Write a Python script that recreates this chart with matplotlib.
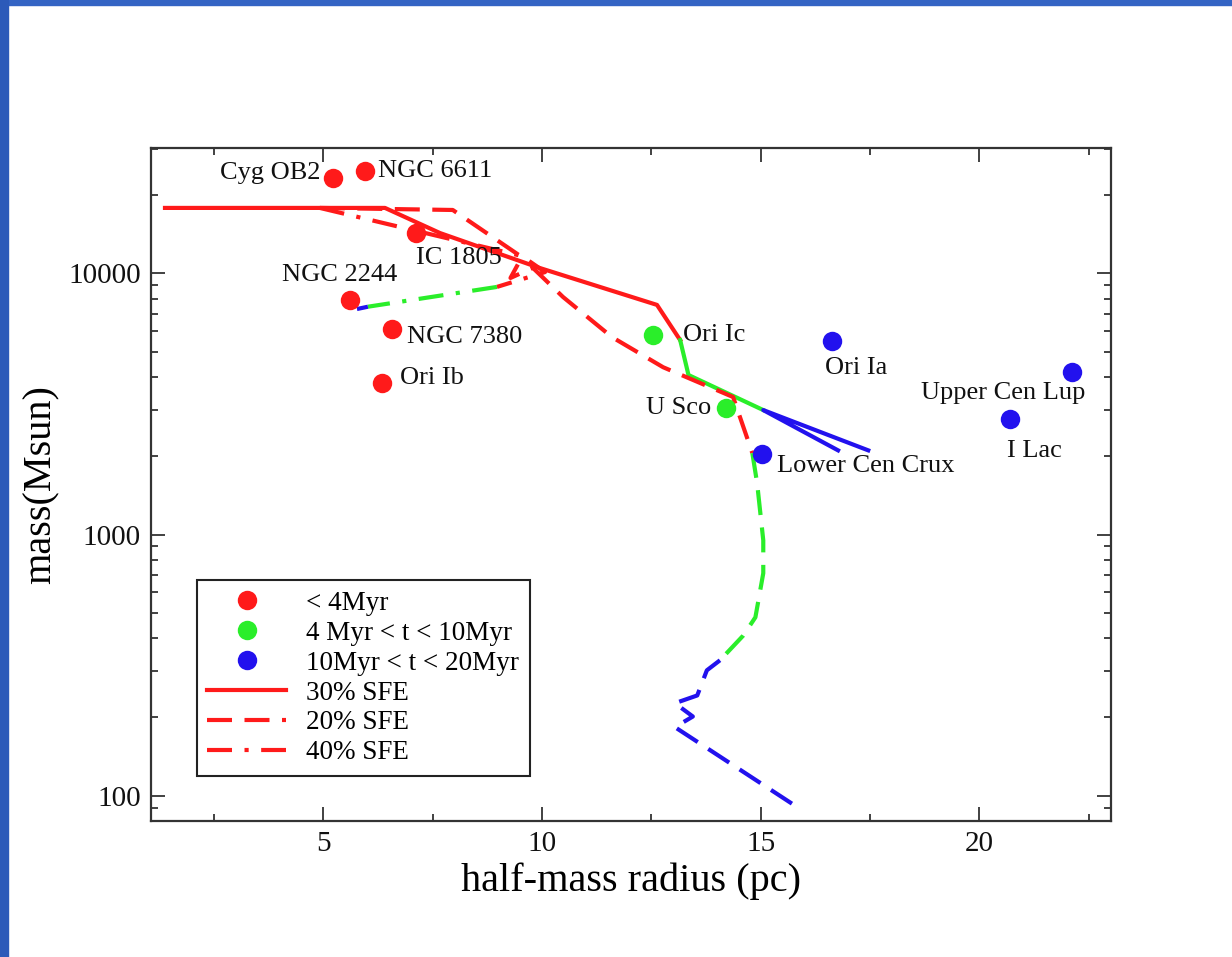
import matplotlib
matplotlib.use('Agg')
import matplotlib.pyplot as plt
from matplotlib.lines import Line2D
from matplotlib.patches import Rectangle
from matplotlib.ticker import FuncFormatter, NullFormatter, MultipleLocator, LogLocator

plt.rcParams['font.family'] = ['Liberation Serif', 'DejaVu Serif']

# observed clusters, grouped by age
young_names = ['Cyg OB2', 'NGC 6611', 'IC 1805', 'NGC 2244', 'NGC 7380', 'Ori Ib']
young_r = [5.22, 5.95, 7.13, 5.62, 6.56, 6.35]
young_m = [23100, 24700, 14300, 7900, 6120, 3790]

mid_names = ['Ori Ic', 'U Sco']
mid_r = [12.53, 14.20]
mid_m = [5800, 3040]

old_names = ['Ori Ia', 'Lower Cen Crux', 'Upper Cen Lup', 'I Lac']
old_r = [16.63, 15.03, 22.12, 20.71]
old_m = [5520, 2030, 4200, 2780]

# model tracks, split by age colour
sfe30_red_r = [1.38, 6.41, 7.67, 9.95, 12.63, 13.16]
sfe30_red_m = [17800, 17800, 14260, 10480, 7570, 5550]
sfe30_green_r = [13.16, 13.35, 15.06]
sfe30_green_m = [5550, 4080, 2995]
sfe30_blue_r = [16.77, 15.06, 17.46]
sfe30_blue_m = [2100, 2995, 2100]

sfe20_red_r = [4.92, 7.96, 9.54, 9.28, 9.79, 10.48, 11.60, 12.77, 14.37, 14.81]
sfe20_red_m = [17800, 17480, 11540, 9600, 10500, 8120, 5700, 4370, 3360, 2050]
sfe20_green_r = [14.81, 14.92, 15.06, 15.06, 14.88, 14.60, 14.07]
sfe20_green_m = [2050, 1570, 950, 711, 482, 410, 330]
sfe20_blue_r = [14.07, 13.77, 13.55, 13.04, 13.45, 13.04, 15.90]
sfe20_blue_m = [330, 302, 242, 226, 201, 183, 89]

sfe40_red_r = [4.92, 9.54, 10.07, 8.97]
sfe40_red_m = [17800, 11650, 10110, 8870]
sfe40_green_r = [8.97, 6.02]
sfe40_green_m = [8870, 7450]
sfe40_blue_r = [6.02, 5.77]
sfe40_blue_m = [7450, 7300]

RED = '#ff1a1a'
GREEN = '#2aee2a'
BLUE = '#2211ee'
SOLID = '-'
DASHED = (0, (6, 3))
DASHDOT = (0, (6, 3, 1, 3))

fig = plt.figure(figsize=(12.32, 9.57), dpi=100)
ax = fig.add_axes([0.1222, 0.1421, 0.7792, 0.7033])

# slide border
fig.add_artist(Rectangle((0, 1 - 5 / 957), 1, 5 / 957, transform=fig.transFigure, color='#3464c4'))
fig.add_artist(Rectangle((0, 0), 8 / 1232, 1, transform=fig.transFigure, color='#2c5ab9'))

tracks = [
    (sfe30_red_r, sfe30_red_m, RED, SOLID), (sfe30_green_r, sfe30_green_m, GREEN, SOLID),
    (sfe30_blue_r, sfe30_blue_m, BLUE, SOLID),
    (sfe20_red_r, sfe20_red_m, RED, DASHED), (sfe20_green_r, sfe20_green_m, GREEN, DASHED),
    (sfe20_blue_r, sfe20_blue_m, BLUE, DASHED),
    (sfe40_red_r, sfe40_red_m, RED, DASHDOT), (sfe40_green_r, sfe40_green_m, GREEN, DASHDOT),
    (sfe40_blue_r, sfe40_blue_m, BLUE, DASHDOT),
]
for r, m, c, ls in tracks:
    ax.plot(r, m, color=c, ls=ls, lw=3, zorder=2)

ax.plot(young_r, young_m, 'o', color=RED, ms=14, mec='none', zorder=3)
ax.plot(mid_r, mid_m, 'o', color=GREEN, ms=14, mec='none', zorder=3)
ax.plot(old_r, old_m, 'o', color=BLUE, ms=14, mec='none', zorder=3)

# label offsets in pixels from each marker
label_offsets = {
    'Cyg OB2': (-12, 5, 'right'), 'NGC 6611': (13, 0, 'left'), 'IC 1805': (0, -25, 'left'),
    'NGC 2244': (-11, 25, 'center'), 'NGC 7380': (15, -8, 'left'), 'Ori Ib': (18, 5, 'left'),
    'Ori Ic': (30, 0, 'left'), 'U Sco': (-14, 0, 'right'), 'Ori Ia': (-7, -27, 'left'),
    'Lower Cen Crux': (15, -12, 'left'), 'Upper Cen Lup': (13, -21, 'right'), 'I Lac': (-3, -32, 'left'),
}
for names, rs, ms in [(young_names, young_r, young_m), (mid_names, mid_r, mid_m), (old_names, old_r, old_m)]:
    for n, r, m in zip(names, rs, ms):
        dx, dy, ha = label_offsets[n]
        ax.annotate(n, (r, m), xytext=(dx, dy), textcoords='offset pixels',
                    ha=ha, va='center', fontsize=19, color='#111111')

ax.set_yscale('log')
ax.set_xlim(1.05, 23.0)
ax.set_ylim(80, 30200)
ax.xaxis.set_major_locator(MultipleLocator(5))
ax.xaxis.set_minor_locator(MultipleLocator(2.5))
ax.yaxis.set_major_locator(LogLocator(base=10))
ax.yaxis.set_minor_locator(LogLocator(base=10, subs=range(2, 10)))
ax.yaxis.set_major_formatter(FuncFormatter(lambda v, p: '%d' % v))
ax.yaxis.set_minor_formatter(NullFormatter())
ax.tick_params(which='both', direction='in', top=True, right=True, width=1.3, colors='#333333',
               labelcolor='#111111', labelsize=21, pad=7)
ax.tick_params(which='major', length=10)
ax.tick_params(which='minor', length=5)
for s in ax.spines.values():
    s.set_linewidth(1.6)
    s.set_color('#333333')

ax.set_xlabel('half-mass radius (pc)', fontsize=29, labelpad=4)
ax.set_ylabel('mass(Msun)', fontsize=29, labelpad=6)

handles = [
    Line2D([], [], ls='none', marker='o', ms=14, color=RED, mec='none'),
    Line2D([], [], ls='none', marker='o', ms=14, color=GREEN, mec='none'),
    Line2D([], [], ls='none', marker='o', ms=14, color=BLUE, mec='none'),
    Line2D([], [], color=RED, lw=3, ls=SOLID),
    Line2D([], [], color=RED, lw=3, ls=DASHED),
    Line2D([], [], color=RED, lw=3, ls=DASHDOT),
]
labels = ['< 4Myr', '4 Myr < t < 10Myr', '10Myr < t < 20Myr', '30% SFE', '20% SFE', '40% SFE']
leg = ax.legend(handles, labels, loc='upper left', bbox_to_anchor=(0.048, 0.358), fontsize=19.5,
                frameon=True, fancybox=False, framealpha=1, edgecolor='#222222', borderaxespad=0,
                handlelength=2.9, labelspacing=0.18, borderpad=0.4, handletextpad=0.75)
leg.get_frame().set_linewidth(1.5)

fig.savefig('out.png', dpi=100)
